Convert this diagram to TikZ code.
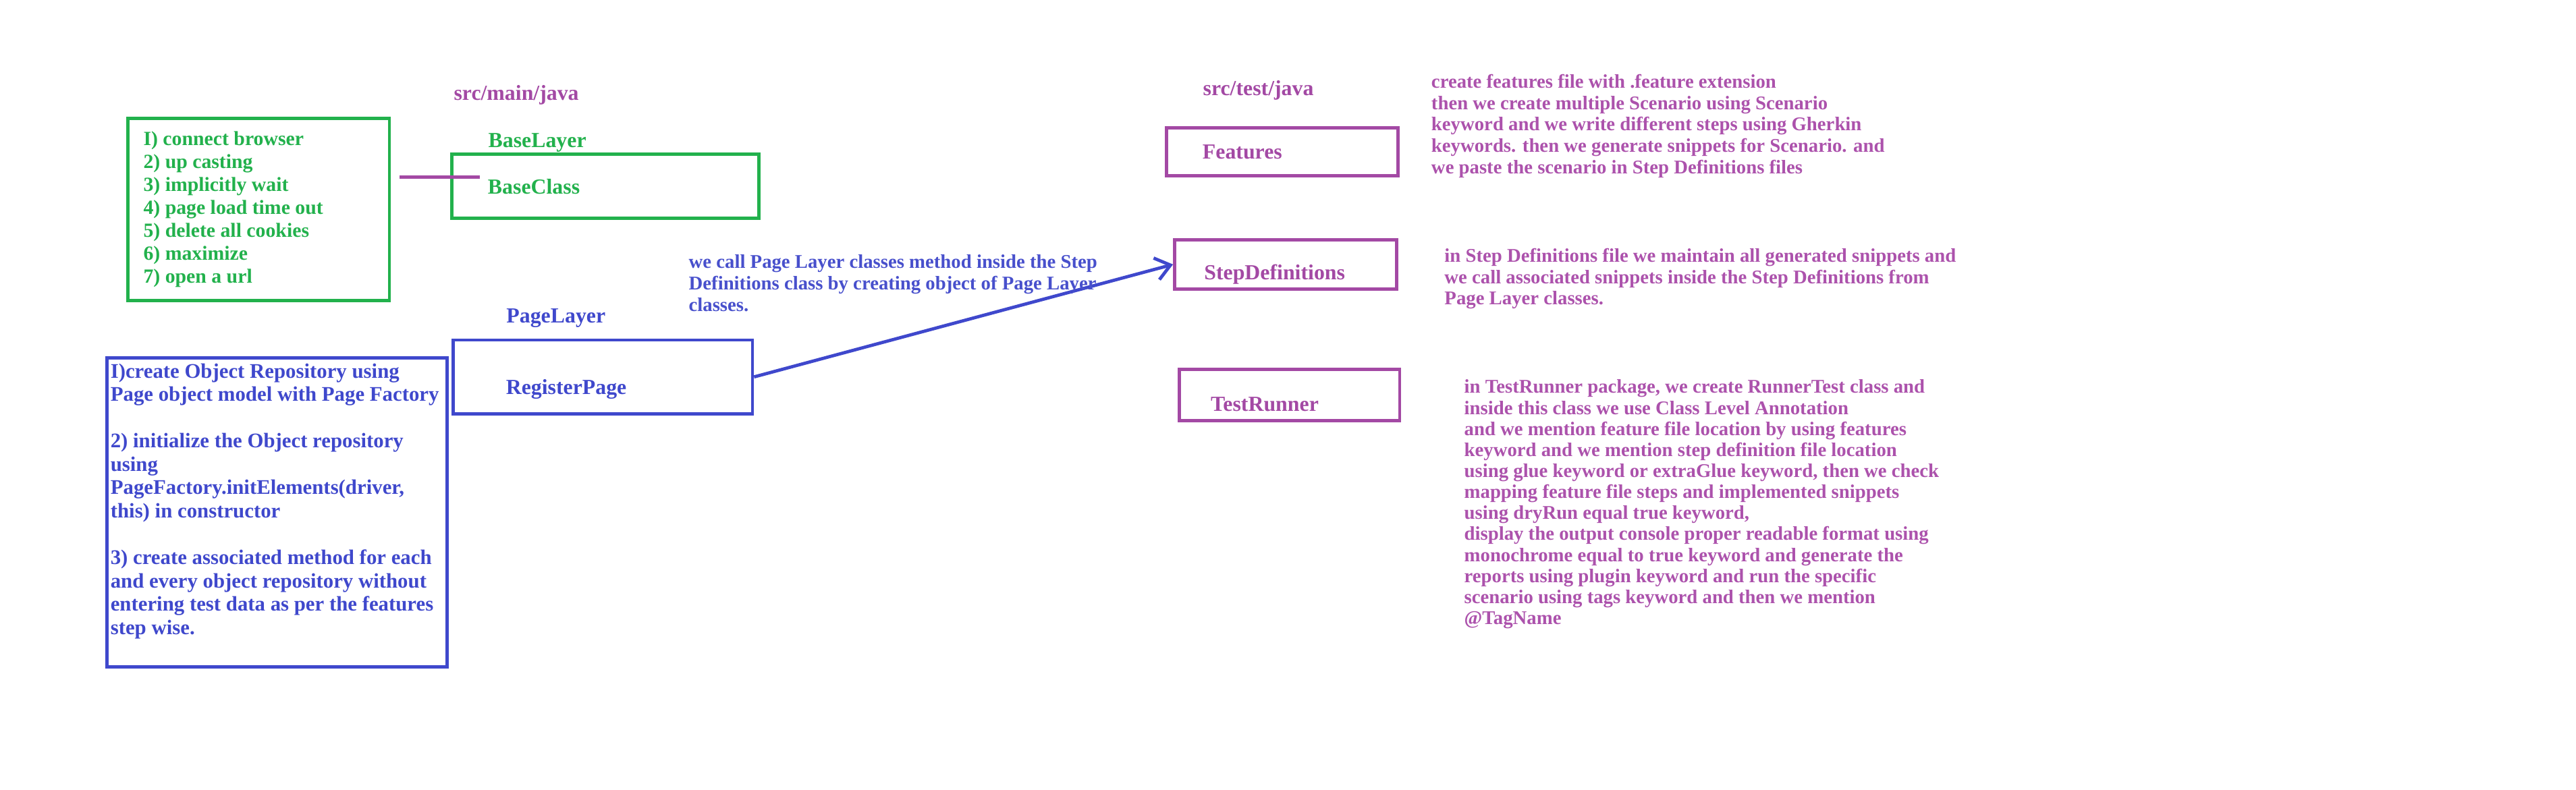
\documentclass[tikz,border=0pt]{standalone}
\usepackage{fontspec}
\setmainfont{Liberation Serif}
\usetikzlibrary{arrows.meta}
\definecolor{pgreen}{RGB}{34,177,76}
\definecolor{pblue}{RGB}{63,72,204}
\definecolor{ppurple}{RGB}{163,73,164}
\definecolor{tpurple}{RGB}{172,82,172}
\definecolor{tblue}{RGB}{72,80,204}

\begin{document}
\begin{tikzpicture}[
    every node/.style={font=\bfseries, inner sep=0pt},
    layerbox/.style={draw, line width=1.4pt, align=left, text depth=0pt,
      font=\fontsize{9.3}{11}\selectfont\bfseries},
    framebox/.style={draw, line width=1.4pt},
    boxtext/.style={align=left, anchor=west},
    notetext/.style={align=left, anchor=north west,
      font=\fontsize{8.4}{9.25}\selectfont\bfseries},
    title/.style={anchor=west, font=\fontsize{9.3}{11}\selectfont\bfseries},
  ]
  \useasboundingbox (0,0) rectangle (39.2,-12.025);

  % main layer
  \node[title, text=ppurple] (mainsrc) at (6.9,-1.45) {src/main/java};
  \node[title, text=pgreen] (baselayer) at (7.425,-2.17) {BaseLayer};
  \node[layerbox, draw=pgreen, text=pgreen, minimum width=4.675cm,
    minimum height=0.975cm, text width=3.575cm, inner xsep=0.55cm,
    text height=0.22cm] (baseclass) at (9.2125,-2.8375) {BaseClass};
  \node[framebox, draw=pgreen, minimum width=3.975cm,
    minimum height=2.775cm] (setup) at (3.9375,-3.1875) {};
  \node[boxtext, text=pgreen, font=\fontsize{8.7}{9.96}\selectfont\bfseries]
    (setuplist) at ([xshift=0.25cm]setup.west)
    {I) connect browser\\2) up casting\\3) implicitly wait\\4) page load time out\\
     5) delete all cookies\\6) maximize\\7) open a url};
  \draw[ppurple, line width=1.4pt] ([shift={(0.125,0.49)}]setup.east)
    -- ([shift={(0.45,0.14)}]baseclass.west);

  % page layer
  \node[title, text=pblue] (pagelayer) at (7.7,-4.84) {PageLayer};
  \node[layerbox, draw=pblue, text=pblue, minimum width=4.55cm,
    minimum height=1.125cm, text width=2.95cm, inner xsep=0.8cm,
    text height=0.54cm] (regpage) at (9.175,-5.7375) {RegisterPage};
  \node[framebox, draw=pblue, minimum width=5.175cm,
    minimum height=4.7cm] (repo) at (4.2125,-7.8) {};
  \node[notetext, text=pblue, font=\fontsize{9}{10.1}\selectfont\bfseries]
    (repotext) at ([shift={(0.075,-0.1)}]repo.north west)
    {I)create Object Repository using\\Page object model with Page Factory\\[10.1pt]
     2) initialize the Object repository\\using\\PageFactory.initElements(driver,\\
     this) in constructor\\[10.1pt]
     3) create associated method for each\\and every object repository without\\
     entering test data as per the features\\step wise.};

  % test layer
  \node[title, text=ppurple] (testsrc) at (18.3,-1.37) {src/test/java};
  \node[layerbox, draw=ppurple, text=ppurple, minimum width=3.525cm,
    minimum height=0.725cm, text width=2.425cm, inner xsep=0.55cm,
    text height=0.22cm] (features) at (19.5125,-2.3125) {Features};
  \node[layerbox, draw=ppurple, text=ppurple, minimum width=3.375cm,
    minimum height=0.75cm, text width=2.475cm, inner xsep=0.45cm,
    text height=0.47cm] (stepdefs) at (19.5625,-4.025) {StepDefinitions};
  \node[layerbox, draw=ppurple, text=ppurple, minimum width=3.35cm,
    minimum height=0.775cm, text width=2.4cm, inner xsep=0.475cm,
    text height=0.5cm] (runner) at (19.625,-6.0125) {TestRunner};

  \draw[pblue, line width=1.4pt, -{Straight Barb[length=2.2mm,width=3.4mm]}]
    (regpage.east) -- (stepdefs.west);
  \node[notetext, text=tblue] (calltext) at (10.475,-3.875)
    {we call Page Layer classes method inside the Step\\
     Definitions class by creating object of Page Layer\\classes.};

  % notes
  \node[notetext, text=tpurple] (featnote) at (21.775,-1.125)
    {create features file with .feature extension\\
     then we create multiple Scenario using Scenario\\
     keyword and we write different steps using Gherkin\\
     keywords. then we generate snippets for Scenario. and\\
     we paste the scenario in Step Definitions files};
  \node[notetext, text=tpurple] (stepnote) at (21.975,-3.775)
    {in Step Definitions file we maintain all generated snippets and\\
     we call associated snippets inside the Step Definitions from\\
     Page Layer classes.};
  \node[notetext, text=tpurple, font=\fontsize{8.4}{9.1}\selectfont\bfseries]
    (runnote) at (22.275,-5.775)
    {in TestRunner package, we create RunnerTest class and\\
     inside this class we use Class Level Annotation\\
     and we mention feature file location by using features\\
     keyword and we mention step definition file location\\
     using glue keyword or extraGlue keyword, then we check\\
     mapping feature file steps and implemented snippets\\
     using dryRun equal true keyword,\\
     display the output console proper readable format using\\
     monochrome equal to true keyword and generate the\\
     reports using plugin keyword and run the specific\\
     scenario using tags keyword and then we mention\\
     @TagName};
\end{tikzpicture}
\end{document}
